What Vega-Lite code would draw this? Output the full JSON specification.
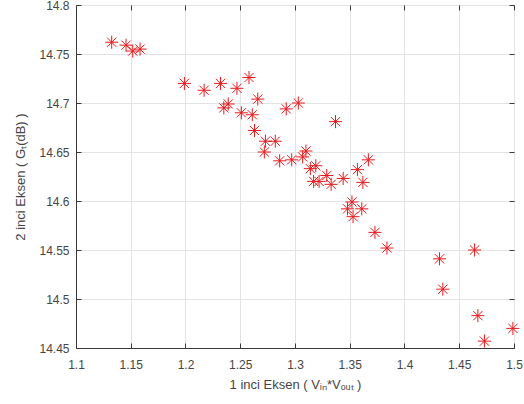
{
  "$schema": "https://vega.github.io/schema/vega-lite/v6.json",
  "autosize": "none",
  "width": 438,
  "height": 343,
  "padding": {"left": 76, "top": 5, "right": 10, "bottom": 56},
  "background": "white",
  "config": {
    "view": {"stroke": "#3a3a3a", "strokeWidth": 1},
    "font": "Liberation Sans",
    "axis": {
      "labelFont": "Liberation Sans",
      "titleFont": "Liberation Sans",
      "labelFontSize": 12,
      "titleFontSize": 13,
      "titleFontWeight": "normal",
      "labelColor": "#454545",
      "titleColor": "#454545",
      "domainColor": "#3a3a3a",
      "tickColor": "#3a3a3a",
      "gridColor": "#e3e3e3",
      "gridOpacity": 1
    }
  },
  "data": {
    "values": [
      {"x": 1.1326, "y": 14.762},
      {"x": 1.1457, "y": 14.759},
      {"x": 1.1518, "y": 14.753},
      {"x": 1.1585, "y": 14.755},
      {"x": 1.199, "y": 14.720},
      {"x": 1.217, "y": 14.713},
      {"x": 1.232, "y": 14.720},
      {"x": 1.247, "y": 14.715},
      {"x": 1.258, "y": 14.726},
      {"x": 1.235, "y": 14.695},
      {"x": 1.239, "y": 14.699},
      {"x": 1.251, "y": 14.690},
      {"x": 1.266, "y": 14.704},
      {"x": 1.261, "y": 14.688},
      {"x": 1.263, "y": 14.672},
      {"x": 1.273, "y": 14.661},
      {"x": 1.282, "y": 14.661},
      {"x": 1.272, "y": 14.650},
      {"x": 1.286, "y": 14.641},
      {"x": 1.297, "y": 14.642},
      {"x": 1.292, "y": 14.694},
      {"x": 1.303, "y": 14.700},
      {"x": 1.307, "y": 14.645},
      {"x": 1.310, "y": 14.651},
      {"x": 1.314, "y": 14.633},
      {"x": 1.319, "y": 14.636},
      {"x": 1.317, "y": 14.620},
      {"x": 1.322, "y": 14.620},
      {"x": 1.329, "y": 14.626},
      {"x": 1.333, "y": 14.617},
      {"x": 1.344, "y": 14.623},
      {"x": 1.357, "y": 14.632},
      {"x": 1.367, "y": 14.642},
      {"x": 1.362, "y": 14.619},
      {"x": 1.337, "y": 14.681},
      {"x": 1.352, "y": 14.599},
      {"x": 1.348, "y": 14.592},
      {"x": 1.361, "y": 14.592},
      {"x": 1.353, "y": 14.584},
      {"x": 1.373, "y": 14.568},
      {"x": 1.384, "y": 14.552},
      {"x": 1.432, "y": 14.541},
      {"x": 1.464, "y": 14.550},
      {"x": 1.435, "y": 14.510},
      {"x": 1.467, "y": 14.483},
      {"x": 1.473, "y": 14.457},
      {"x": 1.499, "y": 14.470}
    ]
  },
  "layer": [
    {
      "mark": {
        "type": "point",
        "shape": "M-1,0L1,0M0,-1L0,1M-0.707,-0.707L0.707,0.707M-0.707,0.707L0.707,-0.707",
        "filled": false,
        "stroke": "#e8191c",
        "strokeWidth": 1,
        "size": 170,
        "opacity": 1
      },
      "encoding": {
        "x": {
          "field": "x", "type": "quantitative",
          "scale": {"domain": [1.1, 1.5], "nice": false, "zero": false},
          "axis": {
            "orient": "bottom",
            "values": [1.1, 1.15, 1.2, 1.25, 1.3, 1.35, 1.4, 1.45, 1.5],
            "format": "~g",
            "tickSize": -5,
            "labelPadding": 16,
            "titlePadding": 8,
            "labelFlush": false,
            "title": "1 inci Eksen ( Vᵢₙ*Vₒᵤₜ )"
          }
        },
        "y": {
          "field": "y", "type": "quantitative",
          "scale": {"domain": [14.45, 14.8], "nice": false, "zero": false},
          "axis": {
            "orient": "left",
            "values": [14.45, 14.5, 14.55, 14.6, 14.65, 14.7, 14.75, 14.8],
            "format": "~g",
            "tickSize": -5,
            "labelPadding": 12,
            "titlePadding": 11,
            "labelFlush": false,
            "title": "2 inci Eksen ( Gₜ(dB) )"
          }
        }
      }
    },
    {
      "mark": {"type": "point", "opacity": 0},
      "encoding": {
        "x": {
          "field": "x", "type": "quantitative",
          "scale": {"domain": [1.1, 1.5], "nice": false, "zero": false},
          "axis": {
            "orient": "top",
            "values": [1.1, 1.15, 1.2, 1.25, 1.3, 1.35, 1.4, 1.45, 1.5],
            "labels": false, "grid": false, "domain": false,
            "tickSize": -5, "title": null
          }
        },
        "y": {
          "field": "y", "type": "quantitative",
          "scale": {"domain": [14.45, 14.8], "nice": false, "zero": false},
          "axis": {
            "orient": "right",
            "values": [14.45, 14.5, 14.55, 14.6, 14.65, 14.7, 14.75, 14.8],
            "labels": false, "grid": false, "domain": false,
            "tickSize": -5, "title": null
          }
        }
      }
    }
  ],
  "resolve": {"axis": {"x": "independent", "y": "independent"}}
}
